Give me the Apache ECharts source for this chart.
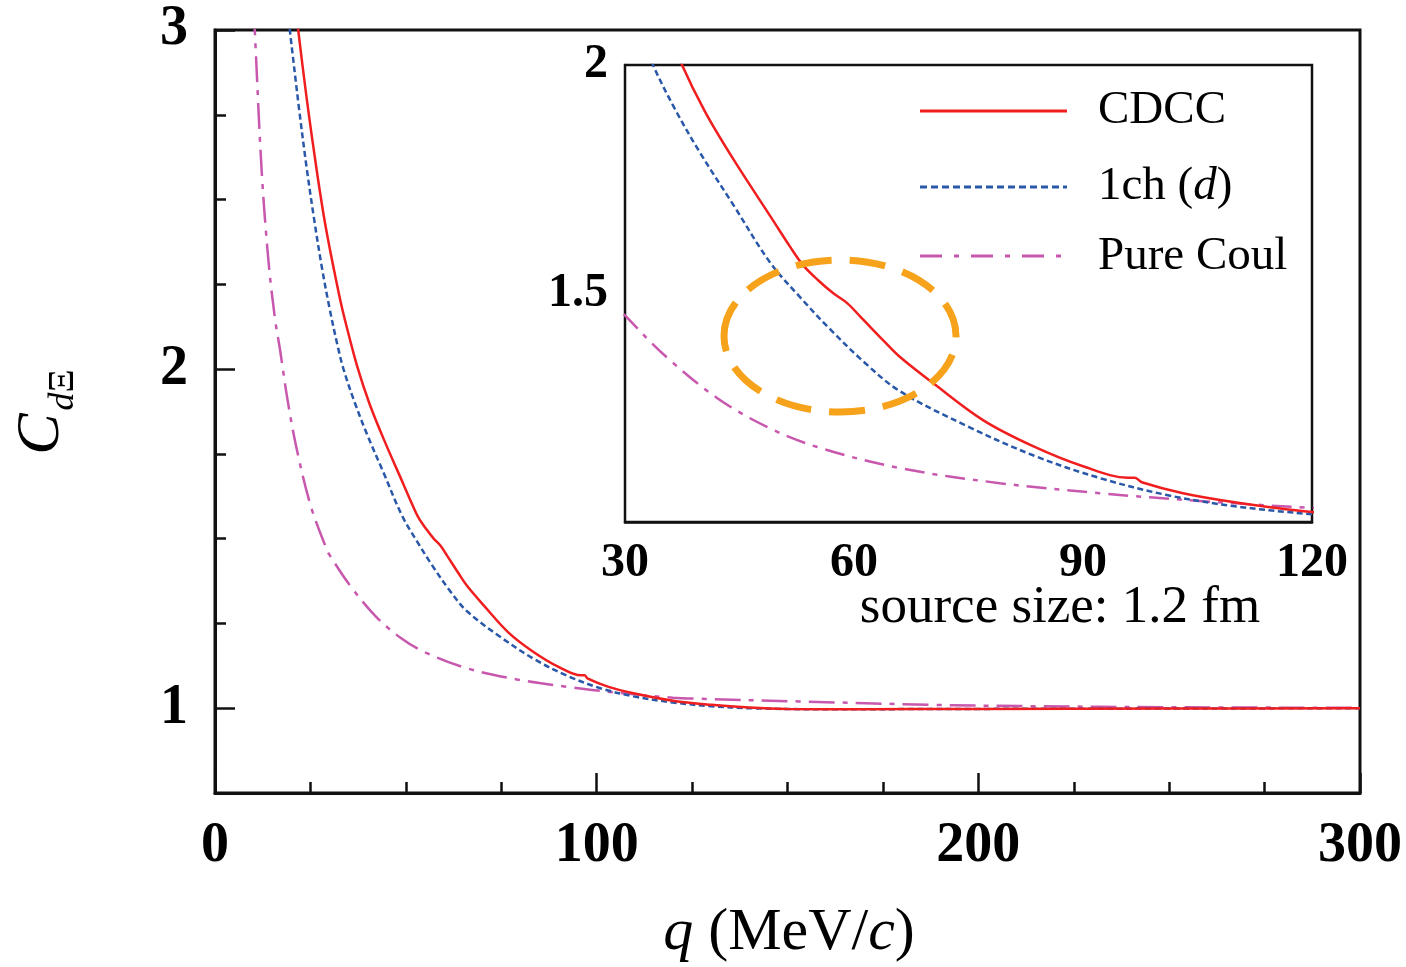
<!DOCTYPE html>
<html>
<head>
<meta charset="utf-8">
<script src="https://cdn.jsdelivr.net/npm/echarts@6/dist/echarts.min.js"></script>
<style>
html,body{margin:0;padding:0;background:#fff;}
#chart{width:1406px;height:967px;}
</style>
</head>
<body>
<div id="chart"></div>
<script>
// ---- data ----
const cdccQ = [21, 21.8, 24, 26.6, 29, 32.7, 34.5, 37.34, 40.48, 44.15, 49.39, 51.6, 53.32, 55.3, 57.25, 59.1, 60.8, 63.8, 66.03, 70.35, 76.9, 83.45, 90.0, 95.9, 96.8, 97.7, 103.1, 109.65, 120, 130, 140, 150, 170, 200, 250, 300];
const cdccC = [3.08, 3.0, 2.8, 2.59, 2.42, 2.21, 2.125, 2.005, 1.898, 1.795, 1.66, 1.603, 1.562, 1.529, 1.501, 1.479, 1.45, 1.398, 1.361, 1.304, 1.223, 1.166, 1.122, 1.097, 1.097, 1.087, 1.063, 1.044, 1.022, 1.01, 1.002, 0.998, 0.997, 0.998, 0.999, 1.0];

const oneChQ = [19, 19.6, 22, 24, 26, 28, 30, 32, 33.67, 36.5, 39.83, 44.15, 49.0, 52.93, 56.86, 61.44, 66.03, 74.8, 83.45, 92.23, 101.0, 109.65, 120, 130, 140, 160, 200, 250, 300];
const oneChC = [3.06, 3.0, 2.77, 2.595, 2.44, 2.3, 2.18, 2.075, 2.0, 1.905, 1.808, 1.695, 1.568, 1.492, 1.422, 1.348, 1.286, 1.21, 1.146, 1.096, 1.059, 1.035, 1.017, 1.006, 1.0, 0.997, 0.998, 0.999, 1.0];

const coulQ = [9.5, 10.5, 12.2, 14, 15.7, 17, 19, 21.4, 25, 29.2, 30, 35.5, 42.1, 48.6, 55.2, 66, 79.1, 92.2, 105.3, 120, 127, 153, 188, 214, 250, 300];
const coulC = [3.2, 2.98, 2.59, 2.32, 2.15, 2.06, 1.91, 1.765, 1.6, 1.47, 1.452, 1.36, 1.271, 1.208, 1.164, 1.118, 1.085, 1.063, 1.046, 1.031, 1.028, 1.02, 1.01, 1.006, 1.003, 1.001];

const seriesNames = ['CDCC', '1ch (d)', 'Pure Coul'];

const mainXTicks = [0, 100, 200, 300];
const mainYMajor = [1, 2, 3];
const mainYMinor = [1.25, 1.5, 1.75, 2.25, 2.5, 2.75];
const insetXTicks = [30, 60, 90, 120];
const insetYTicks = [1.5, 2];

// ---- styling ----
const FONT = 'Liberation Serif';
const RED = '#f01e1e', BLUE = '#2a58a8', MAG = '#c857ae', ORANGE = '#f7a21b';
const AX = '#111';

function pairs(q, c) { return q.map((v, i) => [v, c[i]]); }

const styles = [
  { color: RED, type: 'solid' },
  { color: BLUE, type: [6, 3.5] },
  { color: MAG, type: [26, 8, 5, 8] }
];
const insetStyles = [
  { color: RED, type: 'solid' },
  { color: BLUE, type: [6, 3.5] },
  { color: MAG, type: [20, 8, 5, 8] }
];
const datasets = [pairs(cdccQ, cdccC), pairs(oneChQ, oneChC), pairs(coulQ, coulC)];

const series = [];
datasets.forEach((d, i) => {
  series.push({
    name: seriesNames[i], type: 'line', xAxisIndex: 0, yAxisIndex: 0,
    data: d, showSymbol: false, symbol: 'none', smooth: 0.35,
    clip: true, z: 3 - i + 2,
    lineStyle: { color: styles[i].color, type: styles[i].type, width: 2.5 }
  });
});
datasets.forEach((d, i) => {
  series.push({
    name: seriesNames[i] + ' inset', type: 'line', xAxisIndex: 1, yAxisIndex: 2,
    data: d, showSymbol: false, symbol: 'none', smooth: 0.35,
    clip: true, z: 3 - i + 10,
    lineStyle: { color: insetStyles[i].color, type: insetStyles[i].type, width: 2.5 }
  });
});

const chart = echarts.init(document.getElementById('chart'), null, { renderer: 'canvas' });

const option = {
  backgroundColor: '#fff',
  animation: false,
  grid: [
    { left: 215, top: 30, width: 1145, height: 763, show: true, borderColor: AX, borderWidth: 3, backgroundColor: '#fff', containLabel: false },
    { left: 625, top: 65, width: 687, height: 457, show: true, borderColor: AX, borderWidth: 2.5, backgroundColor: '#fff', containLabel: false, z: 5 }
  ],
  xAxis: [
    {
      gridIndex: 0, type: 'value', min: 0, max: 300, interval: 100,
      axisLine: { show: true, lineStyle: { color: AX, width: 3 } },
      axisTick: { show: true, inside: true, length: 20, lineStyle: { color: AX, width: 2.5 } },
      minorTick: { show: true, splitNumber: 4, length: 11, lineStyle: { color: AX, width: 2.5 } },
      axisLabel: { show: true, margin: 26, color: '#000', fontFamily: FONT, fontWeight: 'bold', fontSize: 56,
        customValues: mainXTicks, formatter: v => String(v) },
      splitLine: { show: false }
    },
    {
      gridIndex: 1, type: 'value', min: 30, max: 120, interval: 30,
      axisLine: { show: true, lineStyle: { color: AX, width: 2.5 } },
      axisTick: { show: true, inside: true, length: 13, lineStyle: { color: AX, width: 2 } },
      minorTick: { show: true, splitNumber: 3, length: 8, lineStyle: { color: AX, width: 2 } },
      axisLabel: { show: true, margin: 18, color: '#000', fontFamily: FONT, fontWeight: 'bold', fontSize: 48,
        customValues: insetXTicks, formatter: v => String(v) },
      splitLine: { show: false }
    }
  ],
  yAxis: [
    {
      gridIndex: 0, type: 'value', min: 0.75, max: 3, interval: 0.25, position: 'left',
      axisLine: { show: true, lineStyle: { color: AX, width: 3 } },
      axisTick: { show: true, inside: true, length: 20, customValues: mainYMajor, lineStyle: { color: AX, width: 2.5 } },
      axisLabel: { show: true, margin: 27, color: '#000', fontFamily: FONT, fontWeight: 'bold', fontSize: 56,
        customValues: mainYMajor, formatter: v => String(v) },
      splitLine: { show: false }
    },
    {
      gridIndex: 0, type: 'value', min: 0.75, max: 3, interval: 0.25, position: 'left', offset: 0,
      axisLine: { show: false },
      axisTick: { show: true, inside: true, length: 11, customValues: mainYMinor, lineStyle: { color: AX, width: 2.5 } },
      axisLabel: { show: false },
      splitLine: { show: false }
    },
    {
      gridIndex: 1, type: 'value', min: 1, max: 2, interval: 0.5,
      axisLine: { show: true, lineStyle: { color: AX, width: 2.5 } },
      axisTick: { show: true, inside: true, length: 13, lineStyle: { color: AX, width: 2 } },
      minorTick: { show: true, splitNumber: 5, length: 7, lineStyle: { color: AX, width: 2 } },
      axisLabel: { show: true, margin: 17, color: '#000', fontFamily: FONT, fontWeight: 'bold', fontSize: 48,
        customValues: insetYTicks, formatter: v => String(v) },
      splitLine: { show: false }
    }
  ],
  series: series,
  graphic: [
    // legend lines
    { type: 'line', z: 100, shape: { x1: 920, y1: 111, x2: 1067, y2: 111 }, style: { stroke: RED, lineWidth: 3 } },
    { type: 'line', z: 100, shape: { x1: 920, y1: 187, x2: 1067, y2: 187 }, style: { stroke: BLUE, lineWidth: 3, lineDash: [7, 4] } },
    { type: 'line', z: 100, shape: { x1: 920, y1: 256, x2: 1067, y2: 256 }, style: { stroke: MAG, lineWidth: 3, lineDash: [22, 12, 5, 12] } },
    // legend texts
    { type: 'text', z: 100, x: 1098, y: 111, style: { text: seriesNames[0], font: '47px "Liberation Serif"', fill: '#000', textAlign: 'left', textVerticalAlign: 'middle' } },
    { type: 'text', z: 100, x: 1098, y: 187, style: { text: '1ch ({i|d})', font: '47px "Liberation Serif"', fill: '#000', textAlign: 'left', textVerticalAlign: 'middle',
        rich: { i: { fontStyle: 'italic', fontFamily: FONT, fontSize: 47, fill: '#000' } } } },
    { type: 'text', z: 100, x: 1098, y: 257, style: { text: seriesNames[2], font: '47px "Liberation Serif"', fill: '#000', textAlign: 'left', textVerticalAlign: 'middle' } },
    // highlight ellipse
    { type: 'ellipse', z: 100, shape: { cx: 840, cy: 336, rx: 116, ry: 76 }, style: { fill: 'none', stroke: ORANGE, lineWidth: 7, lineDash: [36, 18] } },
    // source size note
    { type: 'text', z: 100, x: 1060, y: 608, style: { text: 'source size: 1.2 fm', font: '53px "Liberation Serif"', fill: '#000', textAlign: 'center', textVerticalAlign: 'middle' } },
    // x axis title
    { type: 'text', z: 100, x: 789, y: 933, style: { text: '{i|q} (MeV/{i|c})', font: '60px "Liberation Serif"', fill: '#000', textAlign: 'center', textVerticalAlign: 'middle',
        rich: { i: { fontStyle: 'italic', fontFamily: FONT, fontSize: 60, fill: '#000' } } } },
    // y axis title C_{dΞ}
    { type: 'text', z: 100, x: 42, y: 434, rotation: Math.PI / 2, style: { text: 'C', font: 'italic 62px "Liberation Serif"', fill: '#000', textAlign: 'center', textVerticalAlign: 'middle' } },
    { type: 'text', z: 100, x: 64, y: 390, rotation: Math.PI / 2, style: { text: '{i|d}Ξ', font: '36px "Liberation Serif"', fill: '#000', textAlign: 'center', textVerticalAlign: 'middle',
        rich: { i: { fontStyle: 'italic', fontFamily: FONT, fontSize: 36, fill: '#000' } } } }
  ]
};
chart.setOption(option);
</script>
</body>
</html>
